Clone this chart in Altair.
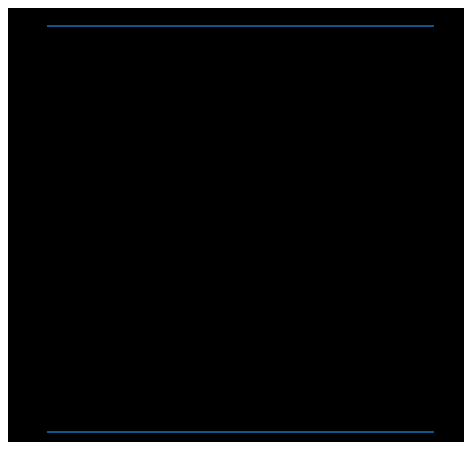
import altair as alt
import pandas as pd

x_vals = [0, 1, 2, 3, 4, 5, 6, 7, 8, 9, 10]
top_vals = [100, 100, 100, 100, 100, 100, 100, 100, 100, 100, 100]
bottom_vals = [0, 0, 0, 0, 0, 0, 0, 0, 0, 0, 0]

rows = []
for x, t in zip(x_vals, top_vals):
    rows.append({"x": x, "y": t, "series": "top"})
for x, b in zip(x_vals, bottom_vals):
    rows.append({"x": x, "y": b, "series": "bottom"})
df = pd.DataFrame(rows)

chart = alt.Chart(df).mark_line(strokeWidth=2, color="#11528f").encode(
    x=alt.X("x:Q", scale=alt.Scale(domain=[0, 10], nice=False), axis=None),
    y=alt.Y("y:Q", scale=alt.Scale(domain=[0, 100], nice=False), axis=None),
    detail="series:N",
).properties(
    width=387,
    height=406,
    background="#000000",
    padding={"left": 39, "top": 18, "right": 30, "bottom": 10},
    autosize=alt.AutoSizeParams(type="none"),
    usermeta={"embedOptions": {"defaultStyle": "html, body { background: #000000; }"}},
).configure_view(stroke=None)

chart.save("out.html", embed_options={"renderer": "svg", "actions": False})
